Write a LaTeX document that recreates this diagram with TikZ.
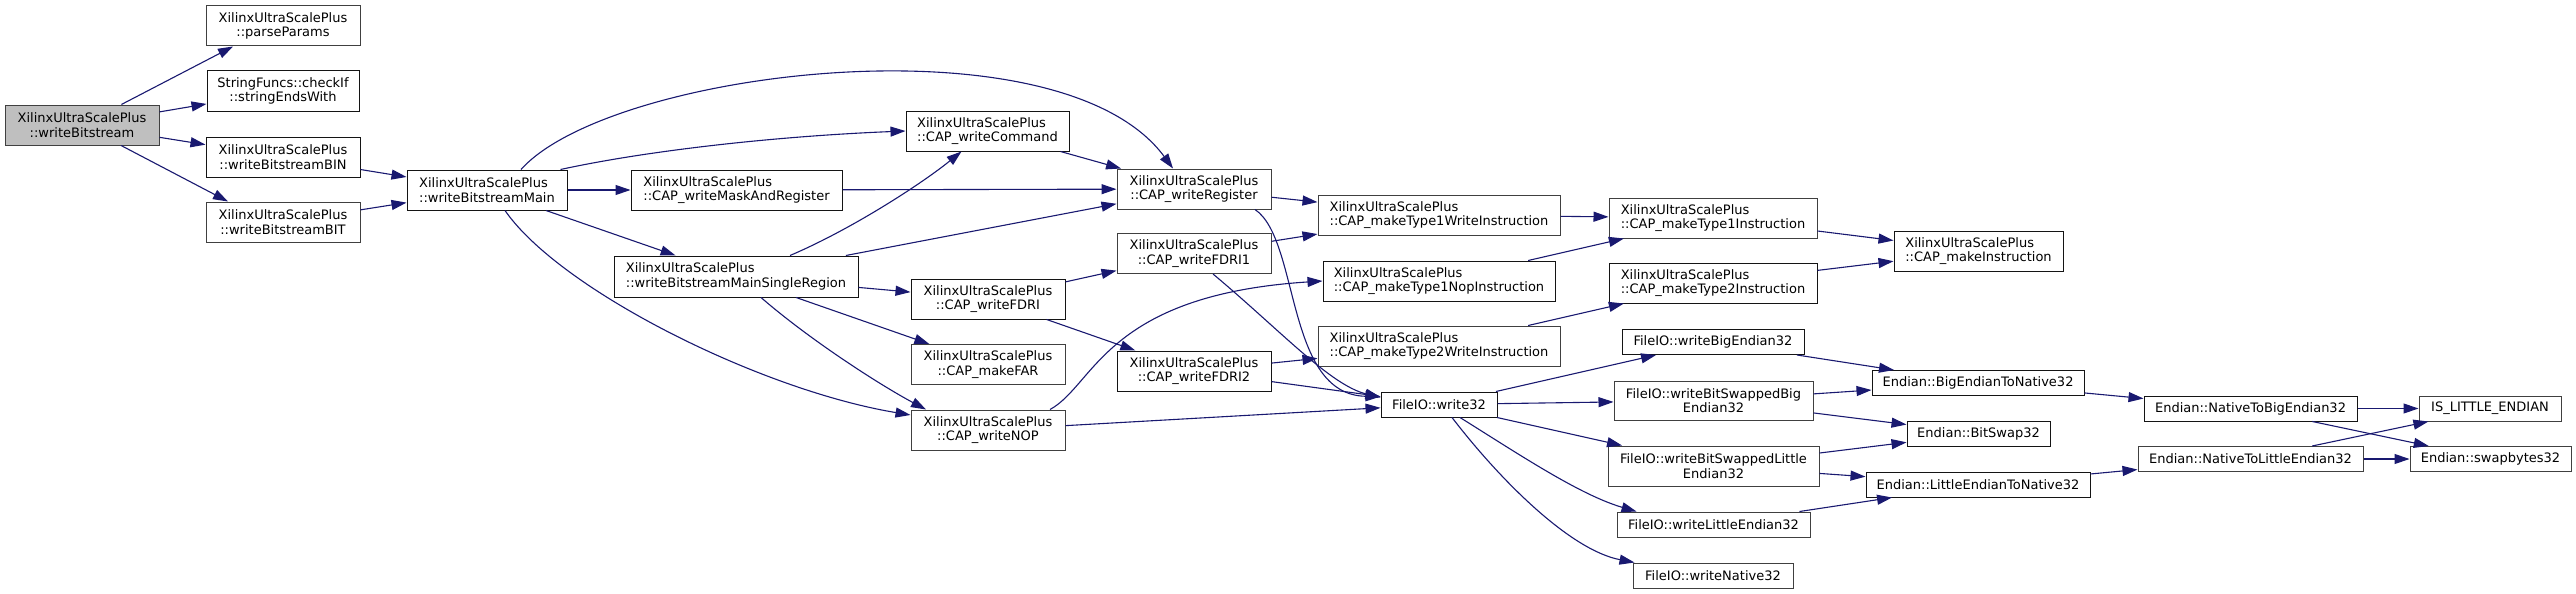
\documentclass[tikz,border=0pt]{standalone}
\usepackage{fontspec}
\setmainfont{DejaVu Sans}
\usepackage{tikz}
\usetikzlibrary{arrows.meta}
\definecolor{CGedge}{RGB}{25,25,112}
\definecolor{CGframe}{RGB}{20,20,20}
\definecolor{CGframeg}{RGB}{64,64,64}
\definecolor{CGroot}{RGB}{191,191,191}
\tikzset{
  fn/.style={draw=CGframe,line width=1pt,fill=white,inner sep=0pt,align=center,
             font=\fontsize{13}{14.5}\selectfont,minimum height=40pt},
  fng/.style={fn,draw=CGframeg},
  fl/.style={fn,align=left},
  flg/.style={fng,align=left},
  one/.style={minimum height=25pt},
  root/.style={fng,fill=CGroot},
  call/.style={-{Triangle[length=15pt,width=10pt]},line width=1.1pt,draw=CGedge}
}

\begin{document}
\begin{tikzpicture}[x=1pt,y=-1pt]
  \useasboundingbox (0,0) rectangle (2576,594);
  \node[root,minimum width=154pt] (root) at (82,125) {XilinxUltraScalePlus\\::writeBitstream};
  \node[fng,minimum width=154pt] (parse) at (283,26) {XilinxUltraScalePlus\\::parseParams};
  \node[fn,minimum width=152pt] (chk) at (283,91) {StringFuncs::checkIf\\::stringEndsWith};
  \node[fn,minimum width=154pt] (bin) at (283,157) {XilinxUltraScalePlus\\::writeBitstreamBIN};
  \node[fng,minimum width=154pt] (bit) at (283,222) {XilinxUltraScalePlus\\::writeBitstreamBIT};
  \node[fl,minimum width=160pt] (main) at (487,190) {XilinxUltraScalePlus\\::writeBitstreamMain};
  \node[fl,minimum width=211pt] (mask) at (736.5,190) {XilinxUltraScalePlus\\::CAP\_writeMaskAndRegister};
  \node[fl,minimum width=244pt,minimum height=41pt] (single) at (736,276.5) {XilinxUltraScalePlus\\::writeBitstreamMainSingleRegion};
  \node[fl,minimum width=163pt] (cmd) at (987.5,131) {XilinxUltraScalePlus\\::CAP\_writeCommand};
  \node[fn,minimum width=154pt] (fdri) at (988,299) {XilinxUltraScalePlus\\::CAP\_writeFDRI};
  \node[fng,minimum width=154pt] (far) at (988,364.5) {XilinxUltraScalePlus\\::CAP\_makeFAR};
  \node[fng,minimum width=154pt] (nop) at (988,430) {XilinxUltraScalePlus\\::CAP\_writeNOP};
  \node[fng,minimum width=154pt] (reg) at (1194,189) {XilinxUltraScalePlus\\::CAP\_writeRegister};
  \node[fng,minimum width=154pt] (fdri1) at (1194,253.5) {XilinxUltraScalePlus\\::CAP\_writeFDRI1};
  \node[fn,minimum width=154pt] (fdri2) at (1194,371) {XilinxUltraScalePlus\\::CAP\_writeFDRI2};
  \node[flg,minimum width=242pt] (t1w) at (1439,215) {XilinxUltraScalePlus\\::CAP\_makeType1WriteInstruction};
  \node[fl,minimum width=232pt] (t1n) at (1439,281) {XilinxUltraScalePlus\\::CAP\_makeType1NopInstruction};
  \node[flg,minimum width=242pt] (t2w) at (1439,346) {XilinxUltraScalePlus\\::CAP\_makeType2WriteInstruction};
  \node[fn,one,minimum width=116pt] (w32) at (1439,404.5) {FileIO::write32};
  \node[flg,minimum width=208pt] (t1i) at (1713,218) {XilinxUltraScalePlus\\::CAP\_makeType1Instruction};
  \node[fl,minimum width=208pt] (t2i) at (1713,283) {XilinxUltraScalePlus\\::CAP\_makeType2Instruction};
  \node[fl,minimum width=169pt] (mki) at (1978.5,251) {XilinxUltraScalePlus\\::CAP\_makeInstruction};
  \node[fn,one,minimum width=182pt] (wbe) at (1713,342) {FileIO::writeBigEndian32};
  \node[fng,minimum width=199pt,minimum height=39pt] (wbsb) at (1713.5,400.5) {FileIO::writeBitSwappedBig\\Endian32};
  \node[fng,minimum width=211pt] (wbsl) at (1713.5,466) {FileIO::writeBitSwappedLittle\\Endian32};
  \node[fng,one,minimum width=193pt] (wle) at (1713.5,524.5) {FileIO::writeLittleEndian32};
  \node[fng,one,minimum width=160pt] (wn) at (1713,575.5) {FileIO::writeNative32};
  \node[fn,one,minimum width=212pt] (b2n) at (1978,383) {Endian::BigEndianToNative32};
  \node[fn,one,minimum width=143pt] (bs) at (1978.5,433.5) {Endian::BitSwap32};
  \node[fn,one,minimum width=224pt] (l2n) at (1978,484.5) {Endian::LittleEndianToNative32};
  \node[fn,one,minimum width=213pt] (n2b) at (2250.5,408.5) {Endian::NativeToBigEndian32};
  \node[fng,one,minimum width=225pt] (n2l) at (2250.5,459) {Endian::NativeToLittleEndian32};
  \node[fng,one,minimum width=142pt] (isle) at (2490,408.5) {IS\_LITTLE\_ENDIAN};
  \node[fng,one,minimum width=161pt] (swp) at (2490.5,459) {Endian::swapbytes32};

  \draw[call] (root) -- ([xshift=-50pt]parse.south);
  \draw[call] (root) -- (chk);
  \draw[call] (root) -- (bin);
  \draw[call] (root) -- ([xshift=-55pt]bit.north);
  \draw[call] (bin) -- (main);
  \draw[call] (bit) -- (main);
  \draw[call] ([xshift=34pt]main.north) .. controls (610,70) and (1060,15) .. ([xshift=-21pt]reg.north);
  \draw[call] ([xshift=-7pt]main.north east) .. controls (650,150) and (780,136) .. (cmd.west);
  \draw[call] (main) -- (mask);
  \draw[call] (main) -- (single);
  \draw[call] ([xshift=18pt]main.south) .. controls (560,290) and (760,390) .. ([yshift=15pt]nop.west);
  \draw[call] (mask) -- (reg);
  \draw[call] (cmd) -- (reg);
  \draw[call] ([xshift=54pt]single.north) .. controls (850,230) and (920,185) .. ([xshift=-26pt]cmd.south);
  \draw[call] (single) -- (reg);
  \draw[call] (single) -- (fdri);
  \draw[call] (single) -- (far);
  \draw[call] ([xshift=25pt]single.south) .. controls (810,340) and (880,385) .. ([xshift=-62pt]nop.north);
  \draw[call] (fdri) -- (fdri1);
  \draw[call] (fdri) -- (fdri2);
  \draw[call] ([xshift=62pt]nop.north) .. controls (1095,385) and (1105,295) .. (t1n.west);
  \draw[call] (nop) -- (w32);
  \draw[call] (reg) -- (t1w);
  \draw[call] ([xshift=61pt]reg.south) .. controls (1300,240) and (1285,395) .. ([yshift=8pt]w32.west);
  \draw[call] (fdri1) -- (t1w);
  \draw[call] ([xshift=19pt]fdri1.south) .. controls (1280,330) and (1330,385) .. ([yshift=7pt]w32.west);
  \draw[call] (fdri2) -- (t2w);
  \draw[call] (fdri2) -- (w32);
  \draw[call] (t1w) -- (t1i);
  \draw[call] (t1n) -- (t1i);
  \draw[call] (t2w) -- (t2i);
  \draw[call] (t1i) -- (mki);
  \draw[call] (t2i) -- (mki);
  \draw[call] (w32) -- (wbe);
  \draw[call] (w32) -- (wbsb);
  \draw[call] (w32) -- (wbsl);
  \draw[call] ([xshift=21pt]w32.south) .. controls (1520,455) and (1580,495) .. ([xshift=-77pt]wle.north);
  \draw[call] ([xshift=13pt]w32.south) .. controls (1500,480) and (1570,550) .. ([xshift=2pt]wn.north west);
  \draw[call] (wbe) -- (b2n);
  \draw[call] (wbsb) -- (b2n);
  \draw[call] (wbsb) -- (bs);
  \draw[call] (wbsl) -- (bs);
  \draw[call] (wbsl) -- (l2n);
  \draw[call] (wle) -- (l2n);
  \draw[call] (b2n) -- (n2b);
  \draw[call] (l2n) -- (n2l);
  \draw[call] (n2b) -- (isle);
  \draw[call] (n2b) -- (swp);
  \draw[call] (n2l) -- (isle);
  \draw[call] (n2l) -- (swp);
\end{tikzpicture}
\end{document}
